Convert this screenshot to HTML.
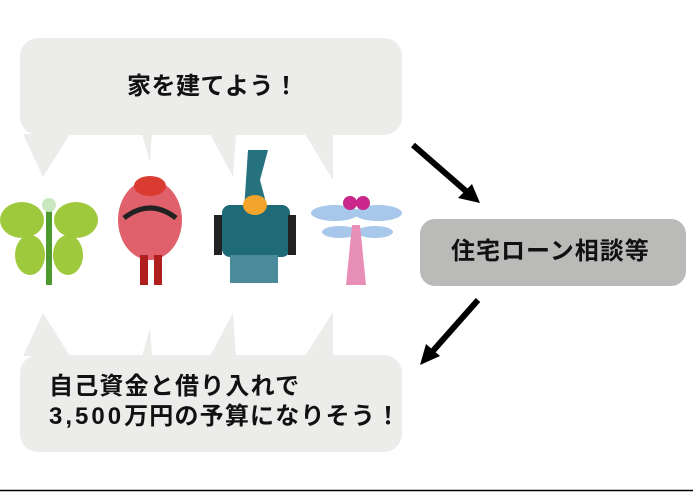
<!DOCTYPE html>
<html><head><meta charset="utf-8"><style>
body{margin:0;width:693px;height:500px;background:#fff;overflow:hidden;position:relative;font-family:"Liberation Sans","Noto Sans CJK JP",sans-serif;}
.t{position:absolute;font-weight:bold;color:#111;white-space:nowrap;}
</style></head><body>
<svg width="693" height="500" style="position:absolute;left:0;top:0">
<g fill="#ecedeb">
<rect x="20" y="38" width="382" height="97" rx="18"/>
<polygon points="23,134 70,134 43,177"/>
<polygon points="142,134 152,134 150,163"/>
<polygon points="210,134 236,134 233,177"/>
<polygon points="305,134 333,134 333,180"/>
<rect x="20" y="355" width="382" height="97" rx="18"/>
<polygon points="43,313 70,356 23,356"/>
<polygon points="150,328 152,356 142,356"/>
<polygon points="233,313 236,356 210,356"/>
<polygon points="333,312 333,356 305,356"/>
</g>
<rect x="420" y="219" width="266" height="67" rx="15" fill="#babbb9"/>
<g stroke="#000" stroke-width="6"><line x1="413" y1="145" x2="467" y2="192"/><line x1="478" y1="300" x2="432" y2="352"/></g>
<polygon points="480,203 458,198 472,184" />
<polygon points="420,365 426,344 440,356"/>
<line x1="0" y1="490.5" x2="693" y2="490.5" stroke="#000" stroke-width="1.5"/>
<g>
<ellipse cx="22" cy="220" rx="22" ry="18" fill="#9fc93c"/><ellipse cx="76" cy="220" rx="22" ry="18" fill="#9fc93c"/>
<ellipse cx="30" cy="255" rx="15" ry="20" fill="#9fc93c"/><ellipse cx="68" cy="255" rx="15" ry="20" fill="#9fc93c"/>
<rect x="46" y="205" width="6" height="80" fill="#4e9a2e"/><circle cx="49" cy="205" r="7" fill="#c9e8c0"/>
</g>
<g>
<ellipse cx="150" cy="220" rx="32" ry="40" fill="#e0606c"/><ellipse cx="150" cy="186" rx="16" ry="10" fill="#d93b30"/>
<rect x="140" y="255" width="8" height="30" fill="#b01e1e"/><rect x="154" y="255" width="8" height="30" fill="#b01e1e"/>
<path d="M124 218 q26 -20 52 0" stroke="#222" stroke-width="5" fill="none"/>
</g>
<g>
<path d="M248 150 l20 0 l-8 30 l8 30 l-24 0 z" fill="#26727f"/>
<rect x="222" y="205" width="68" height="52" rx="8" fill="#1f6a78"/>
<rect x="230" y="255" width="48" height="28" fill="#4a8a9a"/>
<ellipse cx="255" cy="205" rx="12" ry="10" fill="#f2a42b"/>
<rect x="214" y="215" width="8" height="40" fill="#222"/><rect x="288" y="215" width="8" height="40" fill="#222"/>
</g>
<g>
<ellipse cx="335" cy="213" rx="24" ry="8" fill="#a7c8ea"/><ellipse cx="378" cy="213" rx="24" ry="8" fill="#a7c8ea"/>
<ellipse cx="340" cy="232" rx="18" ry="6" fill="#a7c8ea"/><ellipse cx="375" cy="232" rx="18" ry="6" fill="#a7c8ea"/>
<circle cx="350" cy="203" r="7" fill="#c9288a"/><circle cx="363" cy="203" r="7" fill="#c9288a"/>
<polygon points="352,225 360,225 366,285 346,285" fill="#e88fb8"/>
</g>
</svg>
<div class="t" style="left:127px;top:70px;font-size:24px;line-height:34px;letter-spacing:0.5px">家を建てよう！</div>
<div class="t" style="left:451px;top:235px;font-size:24px;line-height:34px;letter-spacing:1px">住宅ローン相談等</div>
<div class="t" style="left:49px;top:372px;font-size:24px;line-height:30px;letter-spacing:1.2px">自己資金と借り入れで<br><span style="letter-spacing:3px">3,500</span>万円の予算になりそう！</div>
</body></html>
